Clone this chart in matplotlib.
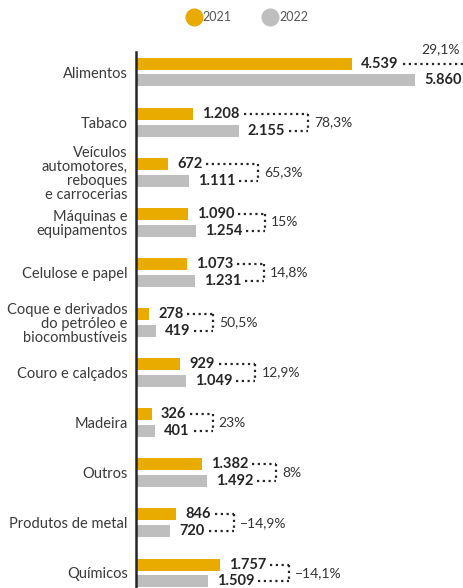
import matplotlib.pyplot as plt
from matplotlib.lines import Line2D
import matplotlib.transforms as mtransforms

categories = ['Alimentos', 'Tabaco', 'Veículos\nautomotores,\nreboques\ne carrocerias',
              'Máquinas e\nequipamentos', 'Celulose e papel',
              'Coque e derivados\ndo petróleo e\nbiocombustíveis', 'Couro e calçados',
              'Madeira', 'Outros', 'Produtos de metal', 'Químicos']
v2021 = [4539, 1208, 672, 1090, 1073, 278, 929, 326, 1382, 846, 1757]
v2022 = [5860, 2155, 1111, 1254, 1231, 419, 1049, 401, 1492, 720, 1509]
labels2021 = ['4.539', '1.208', '672', '1.090', '1.073', '278', '929', '326', '1.382', '846', '1.757']
labels2022 = ['5.860', '2.155', '1.111', '1.254', '1.231', '419', '1.049', '401', '1.492', '720', '1.509']
pct = ['29,1%', '78,3%', '65,3%', '15%', '14,8%', '50,5%', '12,9%', '23%', '8%', '−14,9%', '−14,1%']

gold = '#EAAB00'
grey = '#BEBEBE'
dark = '#262626'

plt.rcParams['font.family'] = ['Lato', 'DejaVu Sans']

W, H = 463, 588
fig = plt.figure(figsize=(W/100, H/100), dpi=100)
ax = fig.add_axes([136/W, 0, 1-136/W, 536/H])
xmax = 6870
ax.set_xlim(0, xmax)
ax.set_ylim(10.3, -0.4)
pxu = (W-136)/xmax  # pixels per data unit (x)

off = 0.168
bh = 0.24
ys = list(range(len(categories)))
ax.barh([y-off for y in ys], v2021, height=bh, color=gold)
ax.barh([y+off for y in ys], v2022, height=bh, color=grey)

for s in ['top', 'right', 'bottom']:
    ax.spines[s].set_visible(False)
ax.spines['left'].set_color(dark)
ax.spines['left'].set_linewidth(1.8)
ax.set_xticks([])
ax.set_yticks(ys)
ax.set_yticklabels(categories, fontsize=10.5, color='#3a3a3a', linespacing=1.0)
ax.tick_params(axis='y', length=0, pad=6)

pad = mtransforms.offset_copy(ax.transData, fig=fig, x=9, y=0, units='dots')
t21, t22 = [], []
for y, a, b, la, lb in zip(ys, v2021, v2022, labels2021, labels2022):
    t21.append(ax.text(a, y-off, la, transform=pad, ha='left', va='center',
                       fontsize=10.5, fontweight='bold', color=dark))
    t22.append(ax.text(b, y+off, lb, transform=pad, ha='left', va='center',
                       fontsize=10.5, fontweight='bold', color=dark))

fig.canvas.draw()
r = fig.canvas.get_renderer()
inv = ax.transData.inverted()

def right_end(t):
    bb = t.get_window_extent(r)
    return inv.transform((bb.x1, 0))[0]

dots = dict(color=dark, linestyle=(0, (1, 1.6)), linewidth=1.6, clip_on=False)
for y, a, b, p in zip(ys, t21, t22, pct):
    e1, e2 = right_end(a), right_end(b)
    bx = max(e1, e2) + 23/pxu
    ax.plot([e1 + 4/pxu, bx], [y-off, y-off], **dots)
    ax.plot([e2 + 4/pxu, bx], [y+off, y+off], **dots)
    ax.plot([bx, bx], [y-off, y+off], **dots)
    if bx > xmax:
        # bracket runs off the right edge: put the rate above the pair
        ax.text(xmax - 3/pxu, y-off-0.29, p, ha='right', va='center',
                fontsize=10, color='#333333')
    else:
        ax.text(bx + 6/pxu, y, p, ha='left', va='center', fontsize=10, color='#333333')

handles = [Line2D([], [], marker='o', linestyle='', markersize=12, markerfacecolor=gold,
                  markeredgecolor=gold, label='2021'),
           Line2D([], [], marker='o', linestyle='', markersize=12, markerfacecolor=grey,
                  markeredgecolor=grey, label='2022')]
leg = fig.legend(handles=handles, loc='center', bbox_to_anchor=(0.535, 0.971), ncol=2,
                 frameon=False, fontsize=9, handletextpad=0.2, columnspacing=2.6,
                 handlelength=1.0)
for t in leg.get_texts():
    t.set_color('#555555')

fig.savefig('out.png', dpi=100)
